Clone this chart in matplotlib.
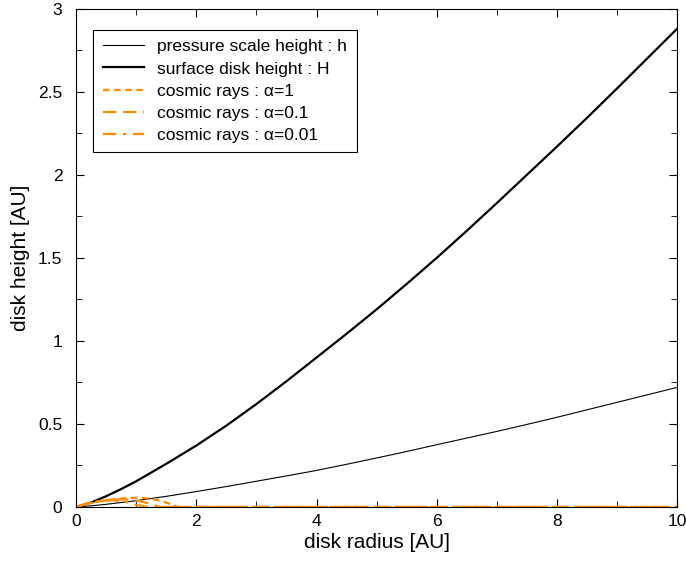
import numpy as np
import matplotlib.pyplot as plt
from matplotlib.ticker import MultipleLocator, FormatStrFormatter

plt.rcParams['font.family'] = ['Liberation Sans', 'DejaVu Sans']

# ── Datos ────────────────────────────────────────────────
radio = [0, 0.25, 0.5, 0.75, 1, 1.5, 2, 2.5, 3, 3.5, 4, 4.5, 5, 5.5, 6, 6.5, 7, 7.5, 8, 8.5, 9, 9.5, 10]
h_presion = [0, 0.007, 0.016, 0.027, 0.038, 0.064, 0.093, 0.123, 0.155, 0.187, 0.22, 0.257, 0.295,
             0.334, 0.375, 0.415, 0.455, 0.497, 0.54, 0.585, 0.63, 0.675, 0.72]
H_superficie = [0, 0.027, 0.065, 0.108, 0.155, 0.26, 0.37, 0.49, 0.62, 0.757, 0.90, 1.043, 1.19,
                1.343, 1.50, 1.663, 1.83, 2.0, 2.17, 2.343, 2.52, 2.70, 2.88]

radio_cr = [0, 0.2, 0.4, 0.6, 0.8, 1.0, 1.2, 1.4, 1.6, 1.7, 2, 4, 6, 8, 10]
cr_alpha1 = [0, 0.02, 0.035, 0.046, 0.053, 0.056, 0.052, 0.038, 0.014, 0, 0, 0, 0, 0, 0]
cr_alpha01 = [0, 0.022, 0.036, 0.044, 0.046, 0.040, 0.022, 0, 0, 0, 0, 0, 0, 0, 0]
cr_alpha001 = [0, 0.024, 0.036, 0.040, 0.034, 0.012, 0, 0, 0, 0, 0, 0, 0, 0, 0]

naranja = '#ff8c00'

fig = plt.figure(figsize=(6.86, 5.61), dpi=100)
ax = fig.add_axes([0.111, 0.0963, 0.876, 0.888])

ax.plot(radio, h_presion, color='black', lw=0.8, label='pressure scale height : h')
ax.plot(radio, H_superficie, color='black', lw=1.6, label='surface disk height : H')
ax.plot(radio_cr, cr_alpha1, color=naranja, lw=1.6, linestyle=(0, (3, 2)),
        label='cosmic rays : α=1')
ax.plot(radio_cr, cr_alpha01, color=naranja, lw=1.6, linestyle=(0, (6, 3)),
        label='cosmic rays : α=0.1')
ax.plot(radio_cr, cr_alpha001, color=naranja, lw=1.6, linestyle=(0, (6, 3, 1.5, 3)),
        label='cosmic rays : α=0.01')

ax.set_xlim(0, 10)
ax.set_ylim(0, 3)
ax.xaxis.set_major_locator(MultipleLocator(2))
ax.xaxis.set_minor_locator(MultipleLocator(1))
ax.yaxis.set_major_locator(MultipleLocator(0.5))
ax.yaxis.set_minor_locator(MultipleLocator(0.25))
ax.xaxis.set_major_formatter(FormatStrFormatter('%g'))
ax.yaxis.set_major_formatter(FormatStrFormatter('%g'))
ax.tick_params(which='both', direction='in', top=True, right=True, labelsize=12.5)
ax.tick_params(axis='x', pad=5)
ax.tick_params(axis='y', pad=10)
ax.tick_params(which='major', length=6)
ax.tick_params(which='minor', length=4)

ax.set_xlabel('disk radius [AU]', fontsize=15, labelpad=3)
ax.set_ylabel('disk height [AU]', fontsize=15, labelpad=6)

leg = ax.legend(loc='upper left', bbox_to_anchor=(0.028, 0.958), fontsize=12.5,
                fancybox=False, edgecolor='black', framealpha=1,
                handlelength=2.4, labelspacing=0.4, borderpad=0.55, handletextpad=0.75,
                borderaxespad=0)
leg.get_frame().set_linewidth(0.8)

fig.savefig('out.png', dpi=100)
